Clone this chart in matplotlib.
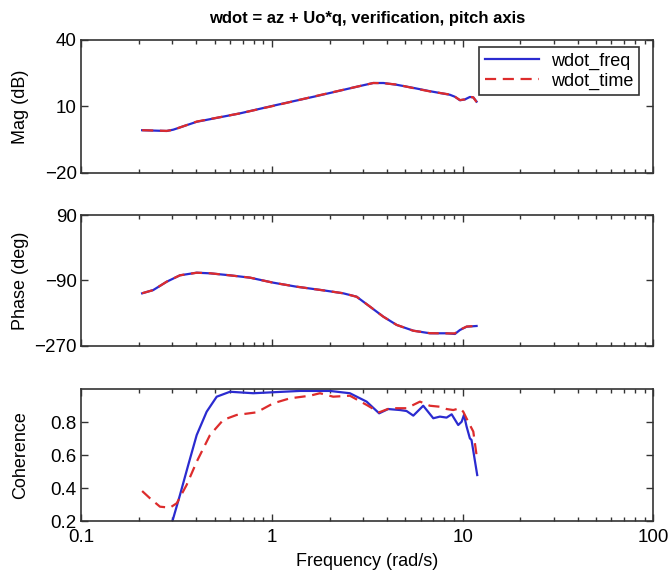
import matplotlib
matplotlib.use('Agg')
import matplotlib.pyplot as plt
from matplotlib.ticker import LogLocator, NullFormatter, FixedLocator, FixedFormatter

# magnitude (dB) vs frequency (rad/s)
mag_w = [0.208, 0.280, 0.303, 0.402, 0.678, 1.056, 1.710, 2.774, 3.39, 3.83,
         4.50, 5.50, 6.72, 8.55, 9.09, 9.66, 10.26, 10.89, 11.35, 11.81]
mag_freq = [-0.7, -1.05, -0.46, 3.1, 6.9, 10.7, 14.7, 18.9, 20.6, 20.6,
            19.8, 18.4, 16.9, 15.3, 14.4, 12.8, 13.2, 14.3, 14.1, 12.2]
mag_time = [-0.7, -1.0, -0.5, 3.2, 6.9, 10.6, 14.8, 18.9, 20.6, 20.5,
            19.9, 18.3, 16.8, 15.4, 14.4, 12.9, 13.2, 14.4, 14.1, 12.0]

# phase (deg)
ph_w = [0.208, 0.238, 0.280, 0.3285, 0.402, 0.472, 0.601, 0.765, 1.014, 1.343,
        1.853, 2.36, 2.774, 3.26, 3.83, 4.50, 5.50, 6.72, 8.22, 9.09,
        9.66, 10.47, 11.81]
ph_freq = [-125.7, -116.6, -93.7, -76.1, -68.9, -70.6, -76.1, -82.6, -96.4, -107.5,
           -117.4, -125.7, -135.0, -162.5, -190.0, -212.9, -228.6, -235.8, -235.8, -237.7,
           -226.7, -217.6, -215.7]
ph_time = [-125.5, -116.8, -93.5, -76.0, -69.0, -70.4, -76.3, -82.4, -96.6, -107.3,
           -117.6, -125.5, -135.2, -162.3, -190.2, -212.7, -228.8, -235.5, -236.2, -236.0,
           -226.0, -217.3, -215.5]

# coherence
coh_w_freq = [0.30, 0.3285, 0.363, 0.402, 0.4535, 0.512, 0.601, 0.796, 1.014, 1.399,
              2.009, 2.557, 3.13, 3.64, 4.06, 4.68, 5.07, 5.50, 6.20, 7.00,
              7.58, 8.22, 8.74, 9.46, 9.86, 10.14, 10.47, 10.89, 11.11, 11.90]
coh_freq = [0.20, 0.358, 0.540, 0.722, 0.864, 0.955, 0.985, 0.976, 0.982, 0.99,
            0.99, 0.976, 0.925, 0.854, 0.880, 0.874, 0.868, 0.840, 0.900, 0.824,
            0.834, 0.828, 0.848, 0.783, 0.803, 0.844, 0.773, 0.702, 0.692, 0.479]
coh_w_time = [0.208, 0.2287, 0.258, 0.291, 0.316, 0.356, 0.402, 0.472, 0.554, 0.651,
              0.829, 1.014, 1.239, 1.578, 1.781, 2.09, 2.557, 3.13, 3.64, 4.147,
              5.07, 5.96, 6.72, 7.58, 8.22, 8.91, 9.66, 10.05, 10.67, 11.35, 11.90]
coh_time = [0.382, 0.338, 0.287, 0.281, 0.308, 0.419, 0.560, 0.722, 0.814, 0.844,
            0.860, 0.915, 0.945, 0.961, 0.976, 0.955, 0.961, 0.905, 0.860, 0.885,
            0.885, 0.925, 0.900, 0.894, 0.880, 0.874, 0.885, 0.864, 0.803, 0.743, 0.571]

plt.rcParams['font.family'] = ['Liberation Sans', 'DejaVu Sans']
plt.rcParams['font.size'] = 13

blue = '#2b2bd0'
red = '#dd2c2c'

fig = plt.figure(figsize=(6.69, 5.78), dpi=100, facecolor='w')
L, W = 0.1218, 0.855
ax1 = fig.add_axes([L, 0.7007, W, 0.2301])
ax2 = fig.add_axes([L, 0.4019, W, 0.2261])
ax3 = fig.add_axes([L, 0.0986, W, 0.2279])


def style(ax):
    ax.set_xscale('log')
    ax.set_xlim(0.1, 100)
    ax.xaxis.set_major_locator(FixedLocator([0.1, 1, 10, 100]))
    ax.xaxis.set_minor_locator(LogLocator(base=10, subs=range(2, 10)))
    ax.xaxis.set_minor_formatter(NullFormatter())
    ax.tick_params(which='both', direction='in', top=True, right=True, width=1.0, color='#333333')
    ax.tick_params(which='major', length=5, labelsize=13.5)
    ax.tick_params(which='minor', length=3)
    for s in ax.spines.values():
        s.set_linewidth(1.2)
        s.set_color('#333333')


# (1) magnitude
ax1.plot(mag_w, mag_freq, color=blue, lw=1.6, label='wdot_freq')
ax1.plot(mag_w, mag_time, color=red, lw=1.6, ls=(0, (5, 3)), label='wdot_time')
style(ax1)
ax1.set_ylim(-20, 40)
ax1.set_yticks([-20, 10, 40])
ax1.set_xticklabels([])
ax1.set_ylabel('Mag (dB)')
ax1.set_title('wdot = az + Uo*q, verification, pitch axis', fontsize=12, fontweight='bold', pad=12)
leg = ax1.legend(loc='upper right', bbox_to_anchor=(0.975, 0.947), borderaxespad=0,
                 fancybox=False, framealpha=1, edgecolor='#333333', fontsize=13,
                 handlelength=3.0, handletextpad=0.7, borderpad=0.3, labelspacing=0.15)
leg.get_frame().set_linewidth(1.2)

# (2) phase
ax2.plot(ph_w, ph_freq, color=blue, lw=1.6)
ax2.plot(ph_w, ph_time, color=red, lw=1.6, ls=(0, (5, 3)))
style(ax2)
ax2.set_ylim(-270, 90)
ax2.set_yticks([-270, -90, 90])
ax2.set_xticklabels([])
ax2.set_ylabel('Phase (deg)')

# (3) coherence
ax3.plot(coh_w_freq, coh_freq, color=blue, lw=1.6)
ax3.plot(coh_w_time, coh_time, color=red, lw=1.6, ls=(0, (5, 3)))
style(ax3)
ax3.set_ylim(0.2, 1.0)
ax3.set_yticks([0.2, 0.4, 0.6, 0.8])
ax3.xaxis.set_major_formatter(FixedFormatter(['0.1', '1', '10', '100']))
ax3.tick_params(axis='x', pad=6)
ax3.set_ylabel('Coherence')
ax3.set_xlabel('Frequency (rad/s)', labelpad=5)

for ax in (ax1, ax2, ax3):
    ax.yaxis.set_label_coords(-0.092, 0.5)

fig.savefig('out.png', dpi=100)
